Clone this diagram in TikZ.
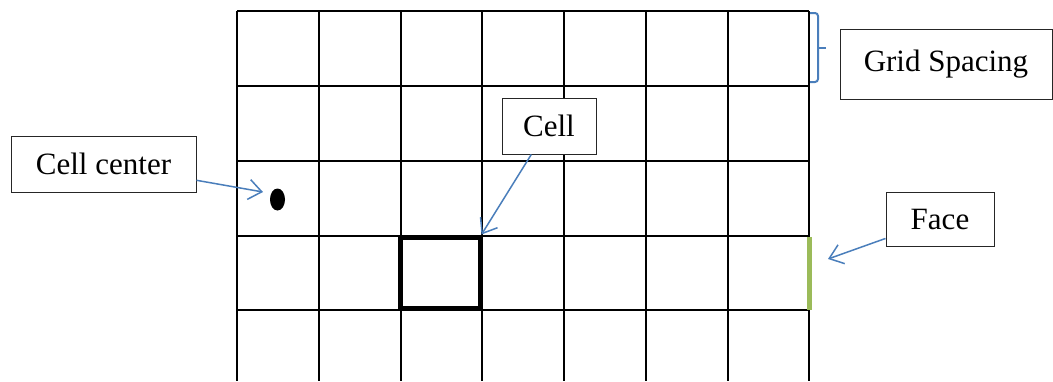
\documentclass[tikz,border=0pt]{standalone}
\usepackage{fontspec}
\setmainfont{Liberation Serif}
\definecolor{WordBlue}{HTML}{4A7EBB}
\definecolor{WordGreen}{HTML}{9BBB59}
\usetikzlibrary{arrows.meta, positioning, calc, shapes.geometric}

\begin{document}
\begin{tikzpicture}[x=1pt, y=-1pt,
    gridline/.style={line width=2pt},
    tagbox/.style={draw=black!85, line width=1pt, fill=white, inner sep=0pt, font=\rmfamily\fontsize{31}{37}\selectfont},
    pointer/.style={draw=WordBlue, line width=1.5pt, -{Straight Barb[length=13pt, width=20pt]}}]
    \useasboundingbox (0,0) rectangle (1053,381);

    % mesh
    \foreach \gx in {237,319,401,482,564,646,728,809}
        \draw[gridline] (\gx,11) -- (\gx,381);
    \foreach \gy in {11,86,161,236,310}
        \draw[gridline] (237,\gy) -- (809,\gy);

    \node[draw, line width=5pt, minimum width=79.5pt, minimum height=71pt, inner sep=0pt] (cell) at (440.25,272.5) {};
    \node[fill, ellipse, minimum width=15pt, minimum height=22pt, inner sep=0pt] (ctr) at (277.5,199.5) {};
    \draw[WordGreen, line width=5pt] (809,237) -- (809,310);

    % labels
    \node[tagbox, minimum width=185pt, minimum height=56pt] (ccbox) at (103.5,164) {Cell center};
    \node[tagbox, minimum width=94pt, minimum height=56pt] (cellbox) at (549,126) {Cell};
    \node[tagbox, minimum width=212pt, minimum height=70pt] (gsbox) at (946,64) {Grid Spacing};
    \node[tagbox, minimum width=108pt, minimum height=54pt] (facebox) at (940,219) {Face};

    \coordinate (ccTip) at (263,192);
    \coordinate (faceTip) at (828,259);
    \coordinate (gsTop) at (810,13);
    \coordinate (gsBot) at (810,82);

    \draw[pointer] (ccbox) -- (ccTip);
    \draw[pointer] (cellbox) -- ([shift={(-1pt,0pt)}]cell.north east);
    \draw[pointer] (facebox) -- (faceTip);
    \draw[WordBlue, line width=2pt, rounded corners=3pt]
        (gsTop) -- ++(8,0) -- ++(0,69) -- (gsBot);
    \draw[WordBlue, line width=2pt] ($(gsTop)!0.5!(gsBot)+(8,0)$) -- ++(8,0);
\end{tikzpicture}
\end{document}
